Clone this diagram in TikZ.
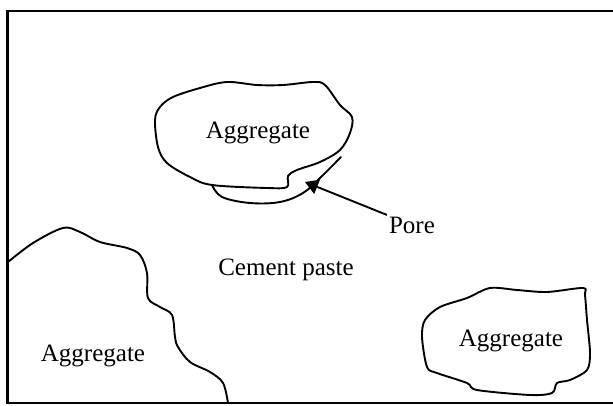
\documentclass[tikz,border=0pt]{standalone}
\usepackage{fontspec}
\setmainfont{Liberation Serif}
\usepackage{tikz}
\usetikzlibrary{arrows.meta}

\begin{document}
\begin{tikzpicture}[x=1pt, y=-1pt,
        grain/.style = {line width=1.9pt, line join=round, line cap=round},
        main/.style = {font=\fontsize{25}{30}\selectfont, inner sep=2pt}]
            \useasboundingbox (0,0) rectangle (613,406);
            \fill[white] (0,0) rectangle (613,406);

            % frame, open on the right
            \draw[line width=2.8pt] (613,11) -- (7.5,11) -- (7.5,403) -- (613,403);

            % upper aggregate with the pore below it
            \draw[grain] plot[smooth cycle, tension=0.55] coordinates {(155,120) (160,107) (173,97) (200,88) (227,82) (257,85) (283,85) (313,82) (325,85) (340,105) (352,117) (350,133) (340,150) (320,162) (297,170) (288,176) (287,187) (267,188) (212,185) (190,177) (167,163) (158,147)};
            \draw[grain] plot[smooth, tension=0.6] coordinates {(212,185) (222,197) (250,203) (280,202) (303,193) (320,178) (341,157)};

            % aggregate at the left edge
            \draw[grain] plot[smooth, tension=0.55] coordinates {(8,262) (33,243) (63,228) (80,232) (100,242) (127,248) (140,255) (147,273) (148,298) (160,307) (172,315) (175,337) (178,347) (190,362) (210,372) (223,383) (228,403)};

            % aggregate at the lower right
            \draw[grain] plot[smooth cycle, tension=0.5] coordinates {(490,288) (517,290) (547,292) (583,288) (585,295) (587,320) (590,353) (587,370) (570,380) (557,383) (552,393) (530,395) (477,390) (467,383) (437,373) (427,367) (422,337) (425,320) (440,307) (467,298)};

            \node[main] (aggtop) at (258,133) {Aggregate};
            \node[main] (aggleft) at (93,356) {Aggregate};
            \node[main] (aggright) at (511,341) {Aggregate};
            \node[main] (paste) at (286,270) {Cement paste};
            \node[main] (pore) at (412,225) {Pore};

            \coordinate (poretip) at (305,182);
            \draw[line width=1.9pt, -{Triangle[length=13pt, width=15pt]}] (pore) -- (poretip);
        \end{tikzpicture}
\end{document}
